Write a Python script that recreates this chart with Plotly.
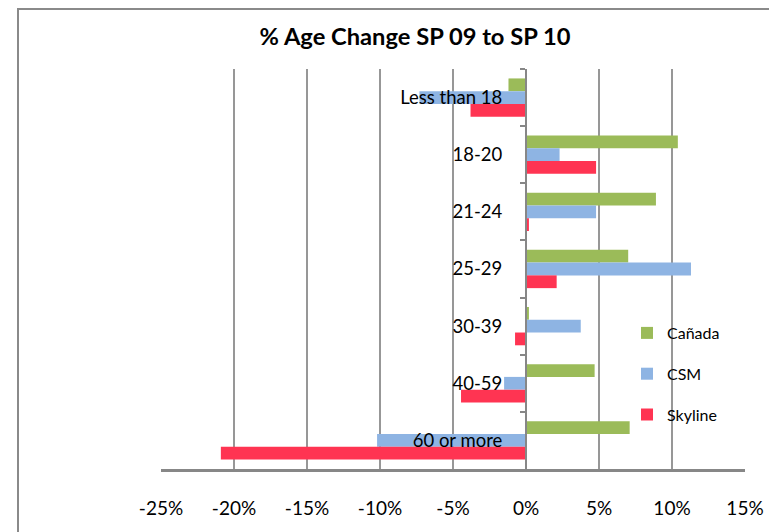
import plotly.graph_objects as go

categories = ["Less than 18", "18-20", "21-24", "25-29", "30-39", "40-59", "60 or more"]
canada = [-1.2, 10.4, 8.9, 7.0, 0.2, 4.7, 7.1]
csm = [-7.3, 2.3, 4.8, 11.3, 3.75, -1.5, -10.2]
skyline = [-3.8, 4.8, 0.2, 2.1, -0.75, -4.45, -20.9]
x_ticks = [-25, -20, -15, -10, -5, 0, 5, 10, 15]
x_tick_labels = [f"{v}%" for v in x_ticks]

series = [("Cañada", canada, "#9BBB59"), ("CSM", csm, "#8EB4E3"), ("Skyline", skyline, "#FF3452")]

FONT = "Lato, Open Sans, sans-serif"

fig = go.Figure()
for name, vals, col in series:
    fig.add_trace(go.Bar(
        y=categories, x=vals, name=name, orientation="h",
        marker=dict(color=col, line=dict(width=0)),
        legendgroup=name,
    ))

W, H = 777, 532
L, R, T, B = 153, 40, 61, 71
pw = W - L - R
ph = H - T - B

fig.update_layout(
    width=W, height=H,
    margin=dict(l=L, r=R, t=T, b=B, autoexpand=False),
    paper_bgcolor="white", plot_bgcolor="white",
    barmode="group", bargap=0.33, bargroupgap=0,
    font=dict(family=FONT, size=18, color="black"),
    title=dict(text="<b>% Age Change SP 09 to SP 10</b>", x=407 / W, xanchor="center",
               y=1 - 29 / H, yanchor="middle", font=dict(size=23.7, family=FONT)),
    xaxis=dict(
        range=[-25, 15], tickvals=x_ticks, ticktext=x_tick_labels,
        showgrid=True, gridcolor="#979797", gridwidth=1.5,
        zeroline=False, showline=True, linecolor="#878787", linewidth=2.5,
        ticks="", ticklabelstandoff=20, tickfont=dict(size=19),
        fixedrange=True,
    ),
    yaxis=dict(
        autorange="reversed", type="category",
        anchor="free", position=25 / 40,
        showline=True, linecolor="#878787", linewidth=2,
        ticks="outside", ticklen=5, tickcolor="#878787", tickwidth=1.5,
        tickson="boundaries", showgrid=False, zeroline=False,
        ticklabelstandoff=19, tickfont=dict(size=18.5),
        layer="above traces",
    ),
    legend=dict(
        x=(619 - L) / pw, y=1 - (308 - T) / ph, xanchor="left", yanchor="top",
        font=dict(size=16, family=FONT), bgcolor="rgba(0,0,0,0)",
        tracegroupgap=17, itemwidth=30, traceorder="grouped",
    ),
    shapes=[dict(
        type="rect", xref="paper", yref="paper",
        x0=(10 - L) / pw, x1=1.2, y0=-0.3, y1=1 + (T - 1) / ph,
        line=dict(color="#8a8a8a", width=2), fillcolor="rgba(0,0,0,0)", layer="below",
    )],
    showlegend=True,
)

fig.write_html("out.html")
